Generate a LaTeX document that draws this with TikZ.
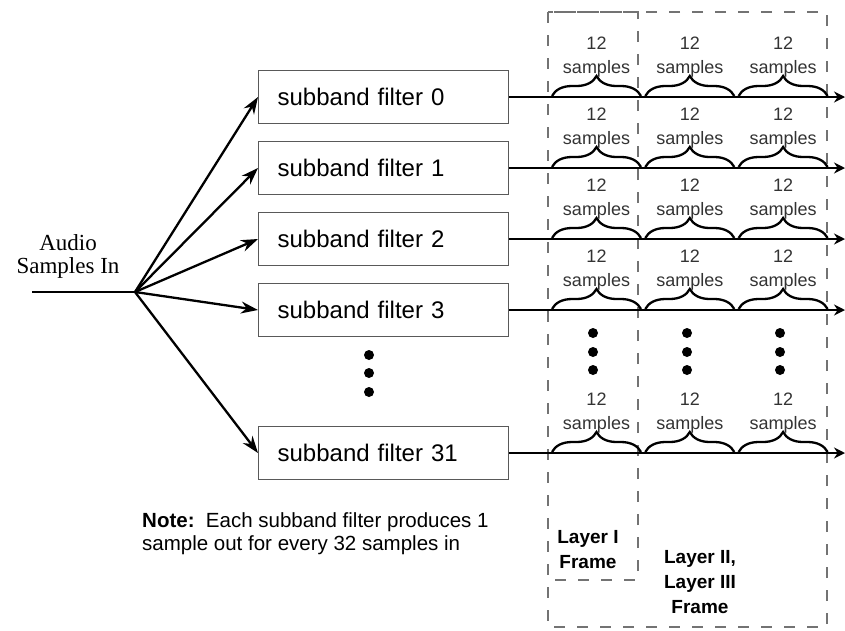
\documentclass[tikz,border=0pt]{standalone}
\usepackage{fontspec}
\setmainfont{Liberation Sans}
\newfontfamily\serifface{Liberation Serif}
\usetikzlibrary{arrows.meta,decorations.pathreplacing,calc}
\begin{document}
\begin{tikzpicture}[x=1pt,y=-1pt,
 filt/.style={draw=black!65,line width=1.3pt,minimum height=53pt,text width=212pt,inner xsep=19pt,inner ysep=0pt,align=left,font=\fontsize{24}{28}\selectfont},
 fan/.style={line width=2.3pt,-{Stealth[length=17pt,width=12pt]}},
 outl/.style={line width=2.3pt,-{Stealth[length=11pt,width=11pt]}},
 brc/.style={decorate,decoration={brace,amplitude=20pt},line width=2.3pt},
 frame/.style={draw=black!55,line width=1.2pt,dash pattern=on 11pt off 12pt},
 smp/.style={font=\fontsize{18}{24}\selectfont,align=center,text=black!80,inner sep=0pt},
 dotn/.style={circle,fill=black,inner sep=0pt,minimum size=10pt},
 lbl/.style={align=center,inner sep=0pt},
]
\useasboundingbox (0,0) rectangle (845,630);
% frames
\draw[frame] (548,12) rectangle (638,580);
\draw[frame] (548,12) rectangle (827,627);
% input
\node[lbl,font=\serifface\fontsize{23}{23}\selectfont] (audio) at (68,256) {Audio\\Samples In};
\coordinate (src) at (32,292);
\coordinate (hub) at (135,292);
\draw[line width=2.3pt] (src) -- (hub);
% filters and outputs
\foreach \yy/\n in {97/0,168/1,239/2,310/3,453/31}{
  \node[filt,anchor=west] (f\n) at (258,\yy) {subband filter \n};
  \coordinate (o\n) at (845,\yy);
  \draw[fan] (hub) -- (f\n.west);
  \draw[outl] (f\n.east) -- (o\n);
  \foreach \k in {0,1,2}{
    \pgfmathsetmacro{\xa}{552+93.3*\k}
    \pgfmathsetmacro{\xb}{\xa+89}
    \pgfmathsetmacro{\xm}{(\xa+\xb)/2}
    \draw[brc] (\xa,\yy-1) -- (\xb,\yy-1);
    \node[smp] (s\n-\k) at (\xm,\yy-40) {12\\samples};
  }
}
% dots
\foreach \yy [count=\i] in {355,373,392}{
  \node[dotn] (d\i) at (369,\yy) {};
}
\foreach \xx [count=\j] in {593,687,780}{
  \foreach \yy [count=\i] in {333,352,370}{
    \node[dotn] (e\j-\i) at (\xx,\yy) {};
  }
}
% note
\node[anchor=north west,align=left,inner sep=0pt,font=\fontsize{20.5}{23}\selectfont] (note) at (142,512)
 {\textbf{Note:}~~Each subband filter produces 1\\sample out for every 32 samples in};
% frame labels
\node[lbl,font=\bfseries\fontsize{19}{25}\selectfont] (l1) at (588,550) {Layer I\\Frame};
\node[lbl,font=\bfseries\fontsize{19}{25}\selectfont] (l2) at (700,582) {Layer II,\\Layer III\\Frame};
\end{tikzpicture}
\end{document}
